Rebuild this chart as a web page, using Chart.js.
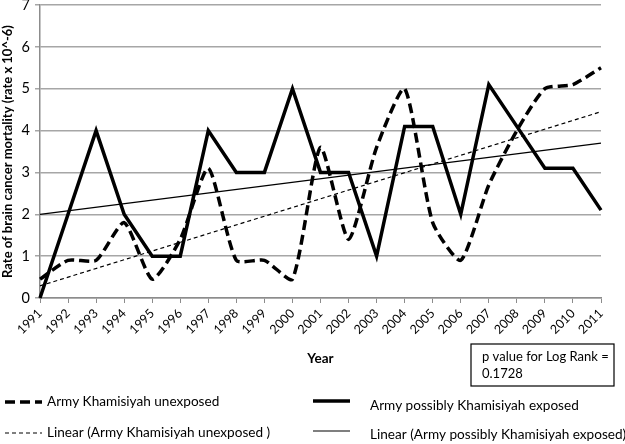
<!DOCTYPE html>
<html>
<head>
<meta charset="utf-8">
<script src="https://cdn.jsdelivr.net/npm/chart.js@4.4.1/dist/chart.umd.min.js"></script>
<style>
  html, body { margin: 0; padding: 0; background: #fff; }
  canvas { display: block; }
</style>
</head>
<body>
<canvas id="myChart" width="625" height="444"></canvas>
<script>
// datos
const years = ['1991', '1992', '1993', '1994', '1995', '1996', '1997', '1998', '1999', '2000',
  '2001', '2002', '2003', '2004', '2005', '2006', '2007', '2008', '2009', '2010', '2011'];
const unexposed = [0.45, 0.9, 0.9, 1.8, 0.45, 1.4, 3.1, 0.9, 0.9, 0.45,
  3.6, 1.4, 3.6, 5.0, 1.8, 0.9, 2.7, 4.0, 5.0, 5.1, 5.5];
const exposed = [0, 2, 4, 2, 1, 1, 4, 3, 3, 5,
  3, 3, 1, 4.1, 4.1, 2, 5.1, 4.1, 3.1, 3.1, 2.1];
// extremos de las lineas de tendencia (1991 y 2011)
const unexposedTrendEnds = [0.29, 4.45];
const exposedTrendEnds = [2.0, 3.7];
const yTicks = [0, 1, 2, 3, 4, 5, 6, 7];

const labelsLegend = [
  'Army Khamisiyah unexposed',
  'Linear (Army Khamisiyah unexposed )',
  'Army possibly Khamisiyah exposed',
  'Linear (Army possibly Khamisiyah exposed)'
];

function trendData(ends) {
  return years.map((y, i) => i === 0 ? ends[0] : (i === years.length - 1 ? ends[1] : null));
}

const FONT = 'Lato';

// leyenda y cuadro de texto dibujados a mano
const extras = {
  id: 'extras',
  afterDraw(chart) {
    const c = chart.ctx;
    const ds = chart.data.datasets;
    c.save();
    const items = [
      { d: ds[0], x: 5, y: 402, tx: 47, ty: 402 },
      { d: ds[2], x: 5, y: 433, tx: 47, ty: 433 },
      { d: ds[1], x: 313, y: 401, tx: 370, ty: 406 },
      { d: ds[3], x: 313, y: 431, tx: 370, ty: 435 }
    ];
    c.font = '13.6px ' + FONT;
    c.textBaseline = 'middle';
    c.fillStyle = '#000';
    items.forEach(it => {
      c.beginPath();
      c.lineWidth = it.d.borderWidth;
      c.strokeStyle = it.d.borderColor;
      c.setLineDash(it.d.borderDash || []);
      c.moveTo(it.x, it.y);
      c.lineTo(it.x + 37, it.y);
      c.stroke();
      c.setLineDash([]);
      c.fillText(it.d.label, it.tx, it.ty);
    });
    // cuadro p value
    c.lineWidth = 1.2;
    c.strokeStyle = '#000';
    c.strokeRect(471, 344, 143, 42);
    c.font = '13px ' + FONT;
    c.fillText('p value for Log Rank =', 482, 357);
    c.fillText('0.1728', 482, 374);
    c.restore();
  }
};

const ctx = document.getElementById('myChart');

new Chart(ctx, {
  type: 'line',
  data: {
    labels: years,
    datasets: [{
      label: labelsLegend[0],
      data: unexposed,
      borderColor: '#000',
      borderWidth: 3.5,
      borderDash: [10, 5],
      tension: 0.2,
      pointRadius: 0,
      clip: false
    }, {
      label: labelsLegend[2],
      data: exposed,
      borderColor: '#000',
      borderWidth: 3.5,
      tension: 0,
      pointRadius: 0,
      clip: false
    }, {
      label: labelsLegend[1],
      data: trendData(unexposedTrendEnds),
      borderColor: '#000',
      borderWidth: 1.2,
      borderDash: [4, 3],
      spanGaps: true,
      pointRadius: 0
    }, {
      label: labelsLegend[3],
      data: trendData(exposedTrendEnds),
      borderColor: '#000',
      borderWidth: 1.2,
      spanGaps: true,
      pointRadius: 0
    }]
  },
  options: {
    responsive: false,
    animation: false,
    layout: { padding: { top: 5, right: 24, left: 0, bottom: 0 } },
    plugins: {
      legend: { display: false },
      tooltip: { enabled: false }
    },
    scales: {
      x: {
        offset: false,
        grid: { drawOnChartArea: false, drawTicks: true, tickLength: 5, color: '#8c8c8c' },
        border: { color: '#8c8c8c', width: 1.5 },
        ticks: {
          minRotation: 45, maxRotation: 45, autoSkip: false,
          color: '#000', font: { family: FONT, size: 12.5 }, padding: 3
        },
        title: {
          display: true, text: 'Year', color: '#000',
          font: { family: FONT, size: 13.5, weight: 'bold' },
          padding: { top: 0, bottom: 77 }
        },
        afterFit(scale) {
          scale.height = 146;
          scale.paddingLeft = 0;
          scale.paddingRight = 0;
        }
      },
      y: {
        min: 0,
        max: 7,
        afterBuildTicks(scale) {
          scale.ticks = yTicks.map(v => ({ value: v }));
        },
        grid: { color: '#a6a6a6', lineWidth: 1.5, tickLength: 5 },
        border: { color: '#8c8c8c', width: 1.5 },
        ticks: { color: '#000', font: { family: FONT, size: 14.5 }, padding: 5 },
        title: {
          display: true, text: 'Rate of brain cancer mortality (rate x 10^-6)', color: '#000',
          font: { family: FONT, size: 13, weight: 'bold' },
          padding: { top: 0, bottom: 0 }
        },
        afterFit(scale) {
          scale.width = 40;
          scale.paddingTop = 0;
          scale.paddingBottom = 0;
        }
      }
    }
  },
  plugins: [extras]
});
</script>
</body>
</html>
